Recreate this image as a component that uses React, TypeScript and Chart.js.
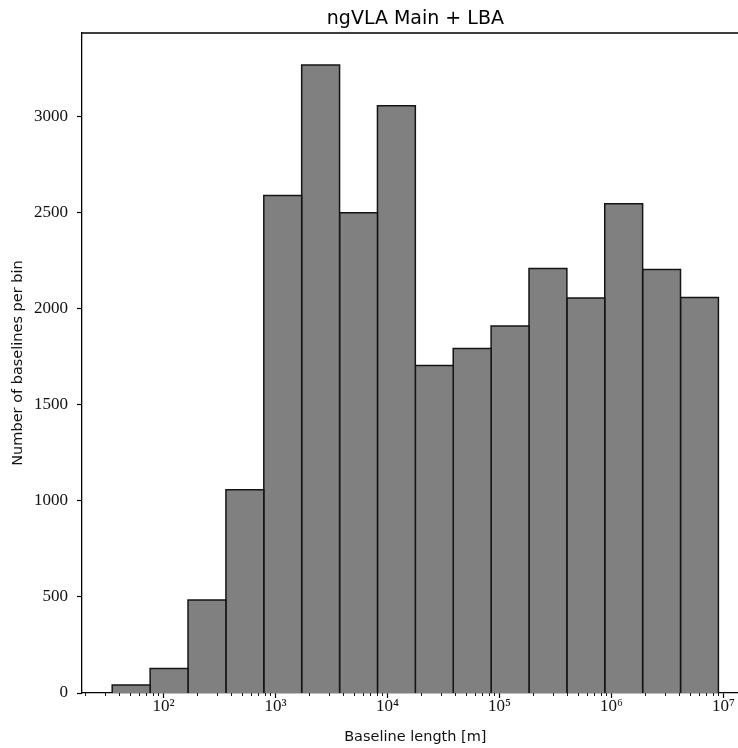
import React, { useEffect, useRef } from "react";
import { Chart, registerables } from "chart.js";

Chart.register(...registerables);

const titleText = "ngVLA Main + LBA";
const xAxisLabel = "Baseline length [m]";
const yAxisLabel = "Number of baselines per bin";

// Histogram bin edges (metres) and counts per bin
const binEdges = [
  34.8, 75.9, 165.4, 360.6, 785.8, 1712, 3731, 8131, 17720, 38620, 84140,
  183400, 399600, 870800, 1897000, 4135000, 9012000,
];
const counts = [
  42, 128, 484, 1057, 2589, 3268, 2499, 3056, 1704, 1792, 1910, 2209, 2055,
  2546, 2204, 2058,
];

const yTickValues = [0, 500, 1000, 1500, 2000, 2500, 3000];
const xDecadeValues = [1e2, 1e3, 1e4, 1e5, 1e6, 1e7];
const xDecadeLabels = ["10²", "10³", "10⁴", "10⁵", "10⁶", "10⁷"];

const xMin = 18.7;
const xMax = 1.68e7;
const yMin = 0;
const yMax = 3434;

function decadeIndex(v: number): number {
  for (let i = 0; i < xDecadeValues.length; i++) {
    if (Math.abs(v - xDecadeValues[i]) / xDecadeValues[i] < 1e-6) return i;
  }
  return -1;
}

function buildLogTicks(): number[] {
  const out: number[] = [];
  for (let d = 1; d <= 7; d++) {
    for (let m = 1; m <= 9; m++) {
      const v = m * Math.pow(10, d);
      if (v >= xMin && v <= xMax) out.push(v);
    }
  }
  return out;
}

const framePlugin = {
  id: "frameAndMinor",
  afterDraw(chart: any) {
    const { ctx, chartArea } = chart;
    const xs = chart.scales.x;
    ctx.save();
    ctx.strokeStyle = "#000";
    ctx.lineWidth = 1.3;
    ctx.beginPath();
    ctx.moveTo(chartArea.left - 0.65, chartArea.top);
    ctx.lineTo(chartArea.right, chartArea.top);
    ctx.moveTo(chartArea.right, chartArea.top);
    ctx.lineTo(chartArea.right, chartArea.bottom);
    ctx.stroke();
    ctx.lineWidth = 0.9;
    ctx.beginPath();
    for (const t of xs.ticks) {
      if (decadeIndex(t.value) >= 0) continue;
      const px = Math.round(xs.getPixelForValue(t.value)) + 0.5;
      ctx.moveTo(px, chartArea.bottom);
      ctx.lineTo(px, chartArea.bottom + 3);
    }
    ctx.stroke();
    ctx.restore();
  },
};

export default function App() {
  const canvasRef = useRef<HTMLCanvasElement | null>(null);

  useEffect(() => {
    const canvas = canvasRef.current;
    if (!canvas) return;

    const datasets = counts.map((c, i) => ({
      data: [
        { x: binEdges[i], y: 0 },
        { x: binEdges[i], y: c },
        { x: binEdges[i + 1], y: c },
        { x: binEdges[i + 1], y: 0 },
      ],
      showLine: true,
      fill: "origin",
      backgroundColor: "#808080",
      borderColor: "#141414",
      borderWidth: 1.5,
      pointRadius: 0,
      pointHoverRadius: 0,
      tension: 0,
    }));

    const xTickValues = buildLogTicks();

    const chart = new Chart(canvas, {
      type: "scatter",
      data: { datasets: datasets as any },
      options: {
        animation: false,
        responsive: false,
        devicePixelRatio: 1,
        events: [],
        layout: { padding: { left: 0, right: 11.3, top: 0, bottom: 0 } },
        plugins: {
          legend: { display: false },
          tooltip: { enabled: false },
          title: {
            display: true,
            text: titleText,
            fullSize: false,
            color: "#000",
            font: { family: "DejaVu Sans", size: 19, weight: "normal", lineHeight: 1.2 },
            padding: { top: 7.6, bottom: 2.6 },
          },
        },
        scales: {
          x: {
            type: "logarithmic",
            min: xMin,
            max: xMax,
            afterBuildTicks: (s: any) => {
              s.ticks = xTickValues.map((v) => ({ value: v }));
            },
            afterFit: (s: any) => {
              s.height = 55;
            },
            grid: {
              display: true,
              drawOnChartArea: false,
              drawTicks: true,
              tickLength: 5,
              tickWidth: 1.2,
              tickColor: (ctx: any) =>
                ctx.tick && decadeIndex(ctx.tick.value) >= 0 ? "#000" : "rgba(0,0,0,0)",
            },
            border: { display: true, color: "#000", width: 1.3 },
            ticks: {
              autoSkip: false,
              maxRotation: 0,
              minRotation: 0,
              padding: 0.5,
              color: "#111",
              font: { family: "Liberation Serif", size: 17, lineHeight: 1 },
              callback: (v: any) => {
                const i = decadeIndex(Number(v));
                return i >= 0 ? xDecadeLabels[i] : "";
              },
            },
            title: {
              display: true,
              text: xAxisLabel,
              color: "#111",
              font: { family: "DejaVu Sans", size: 14.5, lineHeight: 1.2 },
              padding: { top: 0, bottom: 1.6 },
            },
          },
          y: {
            type: "linear",
            min: yMin,
            max: yMax,
            afterBuildTicks: (s: any) => {
              s.ticks = yTickValues.map((v) => ({ value: v }));
            },
            afterFit: (s: any) => {
              s.width = 82;
            },
            grid: {
              display: true,
              drawOnChartArea: false,
              drawTicks: true,
              tickLength: 5,
              tickWidth: 1.2,
              tickColor: "#000",
            },
            border: { display: true, color: "#000", width: 1.3 },
            ticks: {
              autoSkip: false,
              padding: 9,
              color: "#111",
              font: { family: "Liberation Serif", size: 17, lineHeight: 1 },
              callback: (v: any) => String(v),
            },
            title: {
              display: true,
              text: yAxisLabel,
              color: "#111",
              font: { family: "DejaVu Sans", size: 14.5, lineHeight: 1.2 },
              padding: { top: 9.8, bottom: 0 },
            },
          },
        },
      } as any,
      plugins: [framePlugin],
    });

    return () => {
      chart.destroy();
    };
  }, []);

  return (
    <div
      style={{
        position: "fixed",
        left: 0,
        top: 0,
        width: 738,
        height: 748,
        overflow: "hidden",
        background: "#fff",
      }}
    >
      <canvas ref={canvasRef} width={760} height={748} style={{ display: "block" }} />
    </div>
  );
}
